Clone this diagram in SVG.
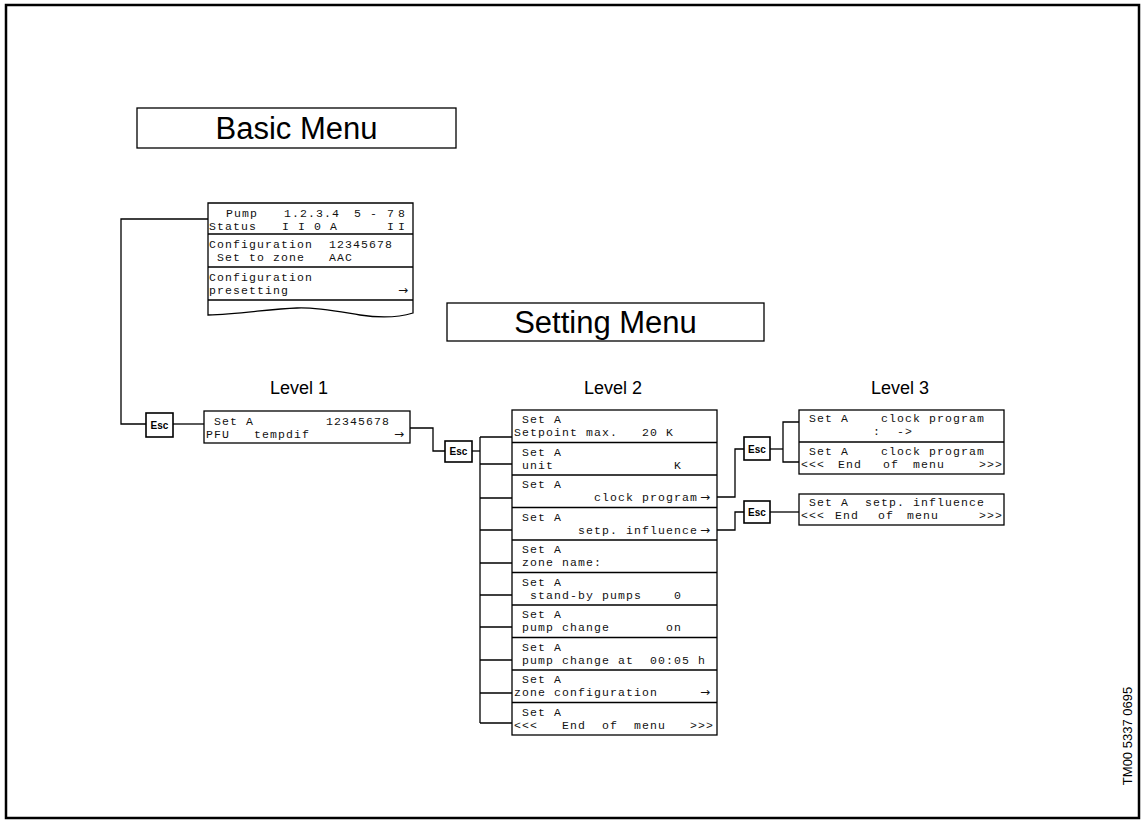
<svg xmlns="http://www.w3.org/2000/svg" width="1144" height="825" viewBox="0 0 1144 825">
<style>
.frame{fill:none;stroke:#000;stroke-width:2.5}
.box{fill:#fff;stroke:#000;stroke-width:1.3}
.div{stroke:#000;stroke-width:1.3}
.conn{fill:none;stroke:#000;stroke-width:1.3}
.mono{font-family:"Liberation Mono","DejaVu Sans Mono",monospace;font-size:11.5px;letter-spacing:1.1px;white-space:pre;fill:#111}
.arr{font-family:"DejaVu Sans",sans-serif;font-size:12px;letter-spacing:0;fill:#111}
.title{font-family:"Liberation Sans",Arial,sans-serif;font-size:31px;text-anchor:middle;fill:#000}
.lvl{font-family:"Liberation Sans",Arial,sans-serif;font-size:18px;text-anchor:middle;fill:#000}
.esc rect{fill:#fff;stroke:#000;stroke-width:1.6}
.esc text{font-family:"Liberation Sans",Arial,sans-serif;font-size:10px;font-weight:bold;text-anchor:middle;fill:#000}
.tm{font-family:"Liberation Sans",Arial,sans-serif;font-size:13px;text-anchor:middle;fill:#000}
</style>
<rect x="0" y="0" width="1144" height="825" fill="#fff"/>
<rect class="frame" x="6" y="5" width="1133" height="813"/>

<g id="title-basic">
<rect class="box" x="137" y="108" width="319" height="40"/>
<text class="title" x="296.5" y="139">Basic Menu</text>
</g>
<g id="title-setting">
<rect class="box" x="447" y="303" width="317" height="38"/>
<text class="title" x="605.5" y="333">Setting Menu</text>
</g>
<g id="level-labels">
<text class="lvl" x="299" y="394">Level 1</text>
<text class="lvl" x="613" y="394">Level 2</text>
<text class="lvl" x="900" y="394">Level 3</text>
</g>

<g id="connectors">
<polyline class="conn" points="208,219 121,219 121,424 146,424"/>
<line class="conn" x1="173" y1="424" x2="204" y2="424"/>
<polyline class="conn" points="410,428 433,428 433,451 445,451"/>
<line class="conn" x1="472" y1="451" x2="480" y2="451"/>
<line class="conn" x1="480" y1="437" x2="480" y2="723"/>
<path class="conn" d="M480,437H512M480,464H512M480,498H512M480,530H512M480,563H512M480,595H512M480,627H512M480,660H512M480,693H512M480,723H512"/>
<polyline class="conn" points="717,497 735,497 735,449 744,449"/>
<polyline class="conn" points="717,530 735,530 735,512 744,512"/>
<line class="conn" x1="770" y1="449" x2="783" y2="449"/>
<path class="conn" d="M799,422H783V462H799"/>
<line class="conn" x1="770" y1="512" x2="799" y2="512"/>
</g>

<g id="basic-display">
<path class="box" d="M208,203H413V313C400,317 380,318 360,315C335,311 315,307 297,308C270,309 240,314 208,315Z"/>
<line class="div" x1="208" y1="234" x2="413" y2="234"/>
<line class="div" x1="208" y1="267" x2="413" y2="267"/>
<line class="div" x1="208" y1="300" x2="413" y2="300"/>
<text class="mono" y="216.5"><tspan x="226">Pump</tspan><tspan x="284">1.2.3.4</tspan><tspan x="354">5</tspan><tspan x="370">-</tspan><tspan x="387">7</tspan><tspan x="398">8</tspan></text>
<text class="mono" y="229.5"><tspan x="209">Status</tspan><tspan x="282">I</tspan><tspan x="298">I</tspan><tspan x="314">0</tspan><tspan x="330">A</tspan><tspan x="387">I</tspan><tspan x="398">I</tspan></text>
<text class="mono" x="209" y="248" xml:space="preserve">Configuration  12345678</text>
<text class="mono" x="209" y="261" xml:space="preserve"> Set to zone   AAC</text>
<text class="mono" x="209" y="281">Configuration</text>
<text class="mono" x="209" y="294">presetting</text>
<text class="mono arr" x="398" y="294">→</text>
</g>

<g id="esc-1" class="esc"><rect x="146" y="413" width="27" height="24"/><text x="159.5" y="428.5">Esc</text></g>
<g id="esc-2" class="esc"><rect x="445" y="441" width="27" height="21"/><text x="458.5" y="455">Esc</text></g>
<g id="esc-3" class="esc"><rect x="744" y="437" width="26" height="23"/><text x="757" y="452.5">Esc</text></g>
<g id="esc-4" class="esc"><rect x="744" y="501" width="26" height="22"/><text x="757" y="516">Esc</text></g>

<g id="level1-box">
<rect class="box" x="204" y="411" width="206" height="32"/>
<text class="mono" x="206" y="425" xml:space="preserve"> Set A         12345678</text>
<text class="mono" x="206" y="438" xml:space="preserve">PFU   tempdif</text>
<text class="mono arr" x="394" y="438">→</text>
</g>

<g id="level2-stack">
<rect class="box" x="512" y="410" width="205" height="325"/>
<path class="div" d="M512,442.5H717M512,475H717M512,507.5H717M512,540H717M512,572.5H717M512,605H717M512,637.5H717M512,670H717M512,702.5H717"/>
<g id="l2-setpoint"><text class="mono" x="514" y="423" xml:space="preserve"> Set A</text><text class="mono" x="514" y="436" xml:space="preserve">Setpoint max.   20 K</text></g>
<g id="l2-unit"><text class="mono" x="514" y="455.5" xml:space="preserve"> Set A</text><text class="mono" x="514" y="468.5" xml:space="preserve"> unit               K</text></g>
<g id="l2-clock"><text class="mono" x="514" y="488" xml:space="preserve"> Set A</text><text class="mono" x="514" y="501" xml:space="preserve">          clock program</text><text class="mono arr" x="700" y="501">→</text></g>
<g id="l2-influence"><text class="mono" x="514" y="520.5" xml:space="preserve"> Set A</text><text class="mono" x="514" y="533.5" xml:space="preserve">        setp. influence</text><text class="mono arr" x="700" y="533.5">→</text></g>
<g id="l2-zonename"><text class="mono" x="514" y="553" xml:space="preserve"> Set A</text><text class="mono" x="514" y="566" xml:space="preserve"> zone name:</text></g>
<g id="l2-standby"><text class="mono" x="514" y="585.5" xml:space="preserve"> Set A</text><text class="mono" x="514" y="598.5" xml:space="preserve">  stand-by pumps    0</text></g>
<g id="l2-pumpchange"><text class="mono" x="514" y="618" xml:space="preserve"> Set A</text><text class="mono" x="514" y="631" xml:space="preserve"> pump change       on</text></g>
<g id="l2-pumpchangeat"><text class="mono" x="514" y="650.5" xml:space="preserve"> Set A</text><text class="mono" x="514" y="663.5" xml:space="preserve"> pump change at  00:05 h</text></g>
<g id="l2-zoneconfig"><text class="mono" x="514" y="683" xml:space="preserve"> Set A</text><text class="mono" x="514" y="696" xml:space="preserve">zone configuration</text><text class="mono arr" x="700" y="696">→</text></g>
<g id="l2-end"><text class="mono" x="514" y="715.5" xml:space="preserve"> Set A</text><text class="mono" x="514" y="728.5" xml:space="preserve">&lt;&lt;&lt;   End  of  menu   &gt;&gt;&gt;</text></g>
</g>

<g id="level3-clock">
<rect class="box" x="799" y="410" width="205" height="64"/>
<line class="div" x1="799" y1="442" x2="1004" y2="442"/>
<text class="mono" x="801" y="422" xml:space="preserve"> Set A    clock program</text>
<text class="mono" x="801" y="435" xml:space="preserve">         :  -&gt;</text>
<text class="mono" x="801" y="455" xml:space="preserve"> Set A    clock program</text>
<text class="mono" y="468"><tspan x="801">&lt;&lt;&lt;</tspan><tspan x="838">End</tspan><tspan x="883">of</tspan><tspan x="913">menu</tspan><tspan x="979">&gt;&gt;&gt;</tspan></text>
</g>

<g id="level3-influence">
<rect class="box" x="799" y="494" width="205" height="31"/>
<text class="mono" x="801" y="506" xml:space="preserve"> Set A  setp. influence</text>
<text class="mono" y="519"><tspan x="801">&lt;&lt;&lt;</tspan><tspan x="835">End</tspan><tspan x="878">of</tspan><tspan x="907">menu</tspan><tspan x="979">&gt;&gt;&gt;</tspan></text>
</g>

<text class="tm" transform="translate(1132,736) rotate(-90)">TM00 5337 0695</text>
</svg>
